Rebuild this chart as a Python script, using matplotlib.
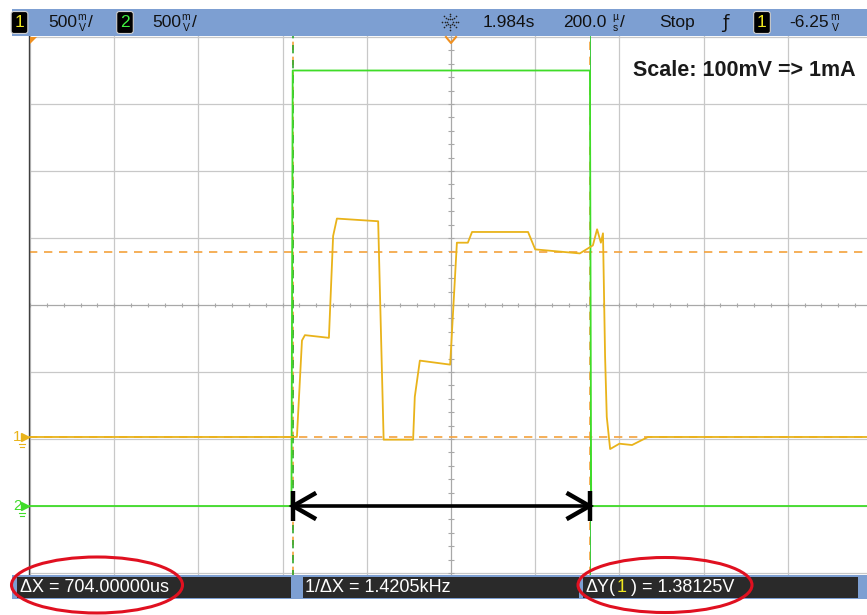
"""
Scope capture: ch1 current sense (yellow) and ch2 enable (green) with cursors.
"""
import numpy as np
import matplotlib.pyplot as plt
from matplotlib.patches import Ellipse, Rectangle, Polygon

W, H = 867, 615

# channel 1 trace: time in us from trigger, volts above ch1 ground
ch1_t = [-1000, -366, -354, -347, -290, -280, -271, -173, -160, -90, -86, -74, -2,
         14, 40, 50, 183, 200, 306, 337, 347, 356, 361, 366, 370, 378, 400, 430, 468, 1000]
ch1_v = [0.0, 0.0, 0.72, 0.76, 0.74, 1.50, 1.63, 1.61, -0.02, -0.02, 0.30, 0.57, 0.54,
         1.45, 1.45, 1.53, 1.53, 1.40, 1.37, 1.43, 1.55, 1.45, 1.52, 0.60, 0.15, -0.09,
         -0.05, -0.06, 0.0, 0.0]

# channel 2 trace
ch2_t = [-1000, -379, -376, 330, 333, 1000]
ch2_v = [0.0, 0.0, 3.25, 3.25, 0.0, 0.0]

ch1_scale = 0.5     # V/div
ch2_scale = 0.5     # V/div
ch1_offset = -1.97  # ground position in divisions from screen centre
ch2_offset = -3.0
time_scale = 200.0  # us/div

cursor_x1 = -375.0
delta_x = 704.0
cursor_y1 = 0.0
cursor_y2 = 1.38125

readouts = ["\u0394X = 704.00000us", "1/\u0394X = 1.4205kHz", "\u0394Y(", "1", " ) = 1.38125V"]
note = "Scale: 100mV => 1mA"

c_ch1 = '#e9b31a'
c_ch2 = '#3fdc28'
c_cur = '#f4a23c'
c_bar = '#7d9fd2'
font = 'Liberation Sans'

fig = plt.figure(figsize=(W / 100, H / 100), dpi=100)
fig.patch.set_facecolor('white')

# screen area in pixels
px_div_x = 84.2
px_div_y = 67.0
cx, cy = 451, 305
left, right, top, bottom = 29, 867, 36, 575
ax = fig.add_axes([left / W, 1 - bottom / H, (right - left) / W, (bottom - top) / H])
ax.set_xlim((left - cx) / px_div_x * time_scale, (right - cx) / px_div_x * time_scale)
ax.set_ylim((cy - bottom) / px_div_y, (cy - top) / px_div_y)

# graticule
for i in range(-5, 6):
    ax.axvline(i * time_scale, color='#a8a8a8' if i == 0 else '#c8c8c8', lw=0.9, zorder=1)
for j in range(-4, 5):
    ax.axhline(j, color='#a8a8a8' if j == 0 else '#c8c8c8', lw=0.9, zorder=1)
mx = np.arange(-5, 5.01, 0.2) * time_scale
my = np.arange(-4, 4.01, 0.2)
ax.vlines(mx, -0.035, 0.035, color='#a8a8a8', lw=0.8, zorder=1)
ax.hlines(my, -6, 6, color='#a8a8a8', lw=0.8, zorder=1)

for s in ['top', 'right', 'bottom']:
    ax.spines[s].set_visible(False)
ax.spines['left'].set_color('#404040')
ax.spines['left'].set_linewidth(1.0)
ax.set_xticks([])
ax.set_yticks([])

# cursors
cursor_x2 = cursor_x1 + delta_x
for yv in [cursor_y1, cursor_y2]:
    ax.axhline(ch1_offset + yv / ch1_scale, color=c_cur, lw=1.2, ls=(0, (5, 4)), zorder=2)
ax.axvline(cursor_x1, color=c_cur, lw=1.2, ls=(0, (5, 4)), zorder=2)
ax.axvline(cursor_x1, color='#2fa82f', lw=1.2, ls=(2, (5, 4)), zorder=2)
ax.axvline(cursor_x2, color=c_cur, lw=1.2, ls=(0, (5, 4)), zorder=2)
ax.axvline(cursor_x2, color='#3cc83c', lw=0.7, zorder=2)

# traces
ax.plot(ch1_t, ch1_offset + np.array(ch1_v) / ch1_scale, color=c_ch1, lw=1.3, zorder=4)
ax.plot(ch2_t, ch2_offset + np.array(ch2_v) / ch2_scale, color=c_ch2, lw=1.3, zorder=3)

# measurement arrow between cursors
ya = ch2_offset
hw = 50
hh = 0.18
ax.plot([cursor_x1, cursor_x2], [ya, ya], color='black', lw=2.6, zorder=5, solid_capstyle='butt')
for xe, d in [(cursor_x1, 1), (cursor_x2, -1)]:
    ax.plot([xe, xe], [ya - 0.23, ya + 0.23], color='black', lw=3.2, zorder=5, solid_capstyle='butt')
    ax.plot([xe + d * hw, xe, xe + d * hw], [ya + hh, ya, ya - hh], color='black', lw=3.2,
            zorder=5, solid_joinstyle='miter')

# ground markers at left of screen
for lab, off, col in [('1', ch1_offset, c_ch1), ('2', ch2_offset, c_ch2)]:
    ax.text((17 - cx) / px_div_x * time_scale, off, lab, color=col, fontsize=11, family=font,
            ha='center', va='center', clip_on=False)
    ax.plot([(25 - cx) / px_div_x * time_scale], [off], marker='>', ms=6, color=col,
            clip_on=False, zorder=6)
    for k, w in [(0.11, 5), (0.15, 3)]:
        xg = (22 - cx) / px_div_x * time_scale
        ax.plot([xg - w * 1.2, xg + w * 1.2], [off - k, off - k], color=col, lw=0.8, clip_on=False)

ax.text((633 - cx) / px_div_x * time_scale, (cy - 70) / px_div_y, note, fontsize=15.5,
        fontweight='bold', family=font, color='#1a1a1a', va='center', ha='left', zorder=6)

# overlay in pixel coordinates for the scope chrome
ov = fig.add_axes([0, 0, 1, 1], zorder=5)
ov.set_xlim(0, W)
ov.set_ylim(H, 0)
ov.axis('off')

ov.add_patch(Rectangle((12, 9), W - 12, 27, color=c_bar, lw=0))
ov.add_patch(Rectangle((12, 575), W - 12, 24, color=c_bar, lw=0))
for x0, x1 in [(17, 291), (303, 579), (583, 858)]:
    ov.add_patch(Rectangle((x0, 577), x1 - x0, 21, color='#2a2a2a', lw=0))

ty = 22.5
tk = dict(fontsize=12.5, family=font, color='#111111', va='center', ha='left')
sk = dict(fontsize=7.5, family=font, color='#111111', va='center', ha='center')


def chan_box(x, lab, col):
    ov.text(x, ty, lab, fontsize=12.5, family=font, color=col, ha='center', va='center',
            bbox=dict(boxstyle='round,pad=0.2,rounding_size=0.15', fc='black', ec='#d0d0d0', lw=0.8))


chan_box(19.5, '1', '#f0e820')
ov.text(48, ty, '500', **tk)
ov.text(82, 17, 'm', **sk)
ov.text(82, 28, 'V', **sk)
ov.text(88, ty, '/', **tk)
chan_box(125, '2', '#40f040')
ov.text(152, ty, '500', **tk)
ov.text(186, 17, 'm', **sk)
ov.text(186, 28, 'V', **sk)
ov.text(192, ty, '/', **tk)

# trigger status icon
for a in np.arange(0, 360, 45):
    r = np.array([3.0, 5.5, 8.0])
    ov.scatter(450 + r * np.cos(np.radians(a)), 21.5 + r * np.sin(np.radians(a)),
               s=1.4, color='#222222', lw=0)

ov.text(483, ty, '1.984s', **tk)
ov.text(563, ty, '200.0', **tk)
ov.text(615, 17, '\u00b5', **sk)
ov.text(615, 28, 's', **sk)
ov.text(620, ty, '/', **tk)
ov.text(659, ty, 'Stop', **tk)
ov.text(725, ty, '\u0192', fontsize=13, family='DejaVu Sans', color='#111111', va='center', ha='center')
chan_box(762, '1', '#f0e820')
ov.text(789, ty, '-6.25', **tk)
ov.text(835, 17, 'm', **sk)
ov.text(835, 28, 'V', **sk)

# orange reference markers
ov.add_patch(Polygon([(30, 37), (37, 37), (30, 44)], closed=True, color='#f09020', lw=0))
ov.plot([446, 451, 456], [37, 43, 37], color='#f09020', lw=1.5)

# readouts
bk = dict(fontsize=13, family=font, color='white', va='center', ha='left')
ov.text(20, 587.5, readouts[0], **bk)
ov.text(305, 587.5, readouts[1], **bk)
t1 = ov.text(586, 587.5, readouts[2], **bk)
r = fig.canvas.get_renderer()
x_next = 586 + t1.get_window_extent(r).width
t2 = ov.text(x_next, 587.5, readouts[3], **dict(bk, color='#f0e820'))
x_next += t2.get_window_extent(r).width
ov.text(x_next, 587.5, readouts[4], **bk)

# red ellipses
ov.add_patch(Ellipse((97, 585), 171, 56, fill=False, ec='#e01020', lw=2.2))
ov.add_patch(Ellipse((665, 585), 174, 55, fill=False, ec='#e01020', lw=2.2))

fig.savefig('out.png', dpi=100)
